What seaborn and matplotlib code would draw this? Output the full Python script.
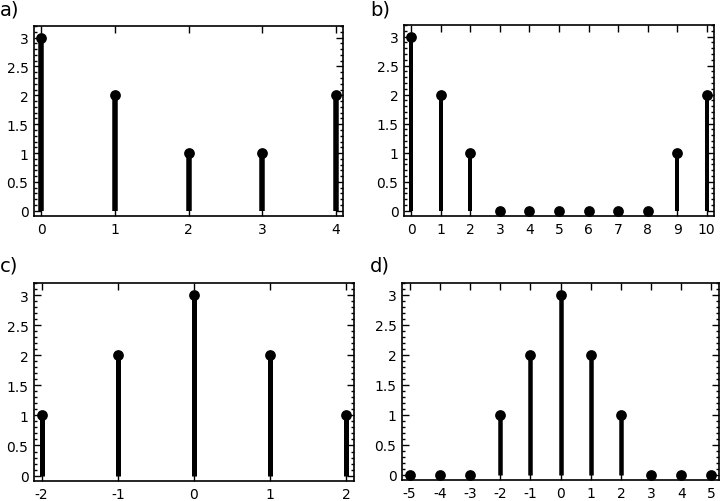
import matplotlib
matplotlib.use("Agg")
import matplotlib.pyplot as plt
import seaborn as sns
import numpy as np
import pandas as pd
from matplotlib.ticker import MultipleLocator, FuncFormatter

# ---- data ----
xa = [0, 1, 2, 3, 4]
ya = [3, 2, 1, 1, 2]
xb = [0, 1, 2, 3, 4, 5, 6, 7, 8, 9, 10]
yb = [3, 2, 1, 0, 0, 0, 0, 0, 0, 1, 2]
xc = [-2, -1, 0, 1, 2]
yc = [1, 2, 3, 2, 1]
xd = [-5, -4, -3, -2, -1, 0, 1, 2, 3, 4, 5]
yd = [0, 0, 0, 1, 2, 3, 2, 1, 0, 0, 0]
labels = ["a)", "b)", "c)", "d)"]

sns.set_style("ticks")
plt.rcParams['font.family'] = ['DejaVu Sans']
plt.rcParams['text.color'] = 'black'

W, H = 720, 502
fig = plt.figure(figsize=(W / 100, H / 100), dpi=100)

def px_axes(l, t, r, b):
    return fig.add_axes([l / W, 1 - b / H, (r - l) / W, (b - t) / H])

panels = [
    (xa, ya, (34, 27, 343, 217), 5.5 * 0.72, (0, 0)),
    (xb, yb, (404, 26, 714, 217), 4.0 * 0.72, (370, 0)),
    (xc, yc, (34, 284, 354, 482), 5.0 * 0.72, (0, 257)),
    (xd, yd, (402, 284, 719, 481), 4.5 * 0.72, (370, 257)),
]

def yfmt(v, pos):
    if abs(v - round(v)) < 1e-9:
        return "%d" % round(v)
    return "%g" % v

for (x, y, box, lw, lab_pos), lab in zip(panels, labels):
    ax = px_axes(*box)
    df = pd.DataFrame({"x": x, "y": y})
    ax.vlines(df["x"], 0, df["y"], colors="black", linewidth=lw, zorder=2)
    sns.scatterplot(data=df, x="x", y="y", ax=ax, color="black", s=60,
                    edgecolor="black", linewidth=0, zorder=3, legend=False)
    span = max(x) - min(x)
    ax.set_xlim(min(x) - 0.025 * span, max(x) + 0.025 * span)
    ax.set_ylim(-0.09, 3.2)
    ax.xaxis.set_major_locator(MultipleLocator(1))
    ax.yaxis.set_major_locator(MultipleLocator(0.5))
    ax.yaxis.set_minor_locator(MultipleLocator(0.1))
    ax.yaxis.set_major_formatter(FuncFormatter(yfmt))
    ax.xaxis.set_major_formatter(FuncFormatter(lambda v, p: "%d" % round(v)))
    ax.tick_params(which="both", direction="in", top=True, right=True,
                   colors="black", width=1.0)
    ax.tick_params(which="major", length=5, labelsize=10, pad=4)
    ax.tick_params(which="minor", length=2.5)
    ax.tick_params(axis="x", which="minor", top=False, bottom=False)
    for s in ax.spines.values():
        s.set_visible(True)
        s.set_linewidth(1.2)
        s.set_color("black")
    ax.set_xlabel("")
    ax.set_ylabel("")
    fig.text(lab_pos[0] / W, 1 - lab_pos[1] / H, lab, fontsize=14,
             color="black", ha="left", va="top")

fig.savefig("out.png", dpi=100)
